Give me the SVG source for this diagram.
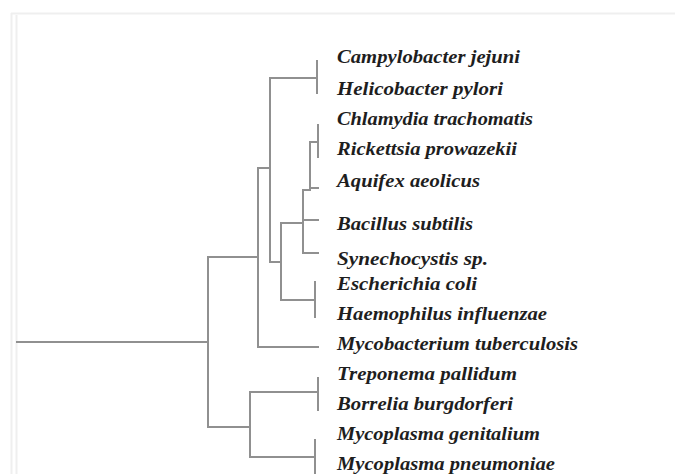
<svg xmlns="http://www.w3.org/2000/svg" width="675" height="474" viewBox="0 0 675 474">
<style>
.frame{stroke:#efefef;stroke-width:2;fill:none}
.br{stroke:#909090;stroke-width:2;fill:none;stroke-linecap:square}
.lbl{font-family:"Liberation Serif","Times New Roman",serif;font-style:italic;font-weight:bold;font-size:18px;fill:#1e1e1e}
</style>
<rect width="675" height="474" fill="#ffffff"/>
<g id="frame">
<path class="frame" d="M11,13.5 H675 M11.5,13 V474 M16.5,15 V474"/>
</g>
<g id="connectors">
<path class="br" d="M17,342 H208"/>
<path class="br" d="M208,257 V427"/>
<path class="br" d="M208,257 H258"/>
<path class="br" d="M258,168 V347 H318"/>
<path class="br" d="M258,168 H270"/>
<path class="br" d="M270,78 V262 H281"/>
<path class="br" d="M270,78 H317"/>
<path class="br" d="M317,61 V93"/>
<path class="br" d="M281,223 V300 H315"/>
<path class="br" d="M281,223 H303"/>
<path class="br" d="M303,190 V253 H318"/>
<path class="br" d="M303,220 H318"/>
<path class="br" d="M303,190 H310"/>
<path class="br" d="M310,142 V188 H318"/>
<path class="br" d="M310,142 H318"/>
<path class="br" d="M318,125 V157"/>
<path class="br" d="M315,282 V317"/>
<path class="br" d="M208,427 H250"/>
<path class="br" d="M250,392 V457"/>
<path class="br" d="M250,392 H318"/>
<path class="br" d="M318,378 V410"/>
<path class="br" d="M250,457 H315"/>
<path class="br" d="M315,440 V474"/>
</g>
<g id="n-campylobacter"><text class="lbl" x="337" y="63" textLength="183" lengthAdjust="spacingAndGlyphs">Campylobacter jejuni</text></g>
<g id="n-helicobacter"><text class="lbl" x="337" y="95" textLength="166" lengthAdjust="spacingAndGlyphs">Helicobacter pylori</text></g>
<g id="n-chlamydia"><text class="lbl" x="337" y="125" textLength="196" lengthAdjust="spacingAndGlyphs">Chlamydia trachomatis</text></g>
<g id="n-rickettsia"><text class="lbl" x="337" y="155" textLength="180" lengthAdjust="spacingAndGlyphs">Rickettsia prowazekii</text></g>
<g id="n-aquifex"><text class="lbl" x="337" y="187" textLength="143" lengthAdjust="spacingAndGlyphs">Aquifex aeolicus</text></g>
<g id="n-bacillus"><text class="lbl" x="337" y="230" textLength="136" lengthAdjust="spacingAndGlyphs">Bacillus subtilis</text></g>
<g id="n-synechocystis"><text class="lbl" x="337" y="265" textLength="151" lengthAdjust="spacingAndGlyphs">Synechocystis sp.</text></g>
<g id="n-escherichia"><text class="lbl" x="337" y="290" textLength="140" lengthAdjust="spacingAndGlyphs">Escherichia coli</text></g>
<g id="n-haemophilus"><text class="lbl" x="337" y="320" textLength="210" lengthAdjust="spacingAndGlyphs">Haemophilus influenzae</text></g>
<g id="n-mycobacterium"><text class="lbl" x="337" y="350" textLength="241" lengthAdjust="spacingAndGlyphs">Mycobacterium tuberculosis</text></g>
<g id="n-treponema"><text class="lbl" x="337" y="380" textLength="180" lengthAdjust="spacingAndGlyphs">Treponema pallidum</text></g>
<g id="n-borrelia"><text class="lbl" x="337" y="410" textLength="176" lengthAdjust="spacingAndGlyphs">Borrelia burgdorferi</text></g>
<g id="n-mgenitalium"><text class="lbl" x="337" y="440" textLength="203" lengthAdjust="spacingAndGlyphs">Mycoplasma genitalium</text></g>
<g id="n-mpneumoniae"><text class="lbl" x="337" y="470" textLength="218" lengthAdjust="spacingAndGlyphs">Mycoplasma pneumoniae</text></g>
</svg>
